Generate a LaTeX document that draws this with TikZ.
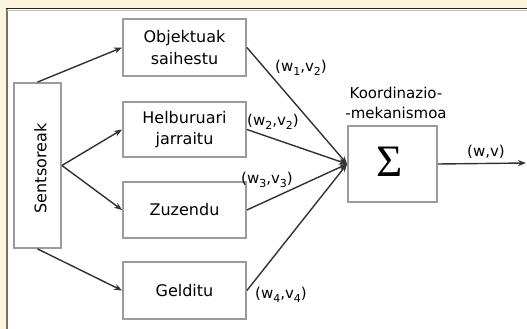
\documentclass[tikz,border=0pt]{standalone}
\usepackage{fontspec}
\setmainfont{DejaVu Sans}
\newfontfamily\sigmafont{Liberation Serif}
\usetikzlibrary{arrows.meta}
\definecolor{cream}{RGB}{253,244,222}
\definecolor{boxgray}{RGB}{155,155,155}
\definecolor{linegray}{RGB}{50,50,50}
\definecolor{leftbar}{RGB}{120,112,96}
\newcommand{\sbs}[1]{\raisebox{-0.28em}{\fontsize{11}{11}\selectfont #1}}
\tikzset{
  blk/.style={draw=boxgray, line width=1.8pt, fill=white, inner sep=0pt, align=center, font=\fontsize{16}{21.5}\selectfont},
  conn/.style={draw=linegray, line width=1.4pt, -{Stealth[length=8pt,width=6pt]}},
  lbl/.style={inner sep=0pt, font=\fontsize{15}{18}\selectfont},
}
\begin{document}
\begin{tikzpicture}[x=1pt,y=-1pt]
\useasboundingbox (0,0) rectangle (527,329);
\fill[cream] (0,0) rectangle (527,329);
\fill[white] (7,9) rectangle (527,329);
\draw[leftbar, line width=2pt] (6.5,8) -- (6.5,329);
\draw[gray!45, line width=1pt] (7,10.5) -- (527,10.5);
\draw[black!85, line width=1.6pt] (5.5,8.5) -- (527,8.5);

\node[blk, minimum width=47pt, minimum height=165pt] (sens) at (37.5,165.5) {};
\node[inner sep=0pt, rotate=90, font=\fontsize{16}{19}\selectfont] (senstxt) at (40.5,168.5) {Sentsoreak};

\node[blk, minimum width=123pt, minimum height=57pt] (obj) at (184.5,47.5) {Objektuak\\saihestu};
\node[blk, minimum width=123pt, minimum height=55pt] (hel) at (184.5,129.5) {Helburuari\\jarraitu};
\node[blk, minimum width=123pt, minimum height=56pt] (zuz) at (184.5,210) {Zuzendu};
\node[blk, minimum width=123pt, minimum height=57pt] (gel) at (184.5,290.5) {Gelditu};

\node[blk, minimum width=89pt, minimum height=76pt] (sum) at (392.5,164) {};
\node[inner sep=0pt, font=\sigmafont\fontsize{45}{45}\selectfont] (sigma) at (390,162) {Σ};

\node[lbl, align=center, font=\fontsize{15}{20.7}\selectfont] (koord) at (396,103) {Koordinazio-\\-mekanismoa};

\coordinate (out) at (526,163);

\draw[conn] (sens.north) -- (obj.west);
\draw[conn] (sens.east) -- (hel.west);
\draw[conn] (sens.east) -- (zuz.west);
\draw[conn] (sens.south) -- (gel.west);

\draw[conn] (obj.east) -- (sum.west);
\draw[conn] (hel.east) -- (sum.west);
\draw[conn] (zuz.east) -- (sum.west);
\draw[conn] (gel.east) -- (sum.west);
\draw[conn] (sum.east) -- (out);

\node[lbl] (l1) at (301,68) {(w\sbs{1},v\sbs{2})};
\node[lbl] (l2) at (273,122) {(w\sbs{2},v\sbs{2})};
\node[lbl] (l3) at (267,180) {(w\sbs{3},v\sbs{3})};
\node[lbl] (l4) at (281,295) {(w\sbs{4},v\sbs{4})};
\node[lbl] (l5) at (486,152) {(w,v)};
\end{tikzpicture}
\end{document}
